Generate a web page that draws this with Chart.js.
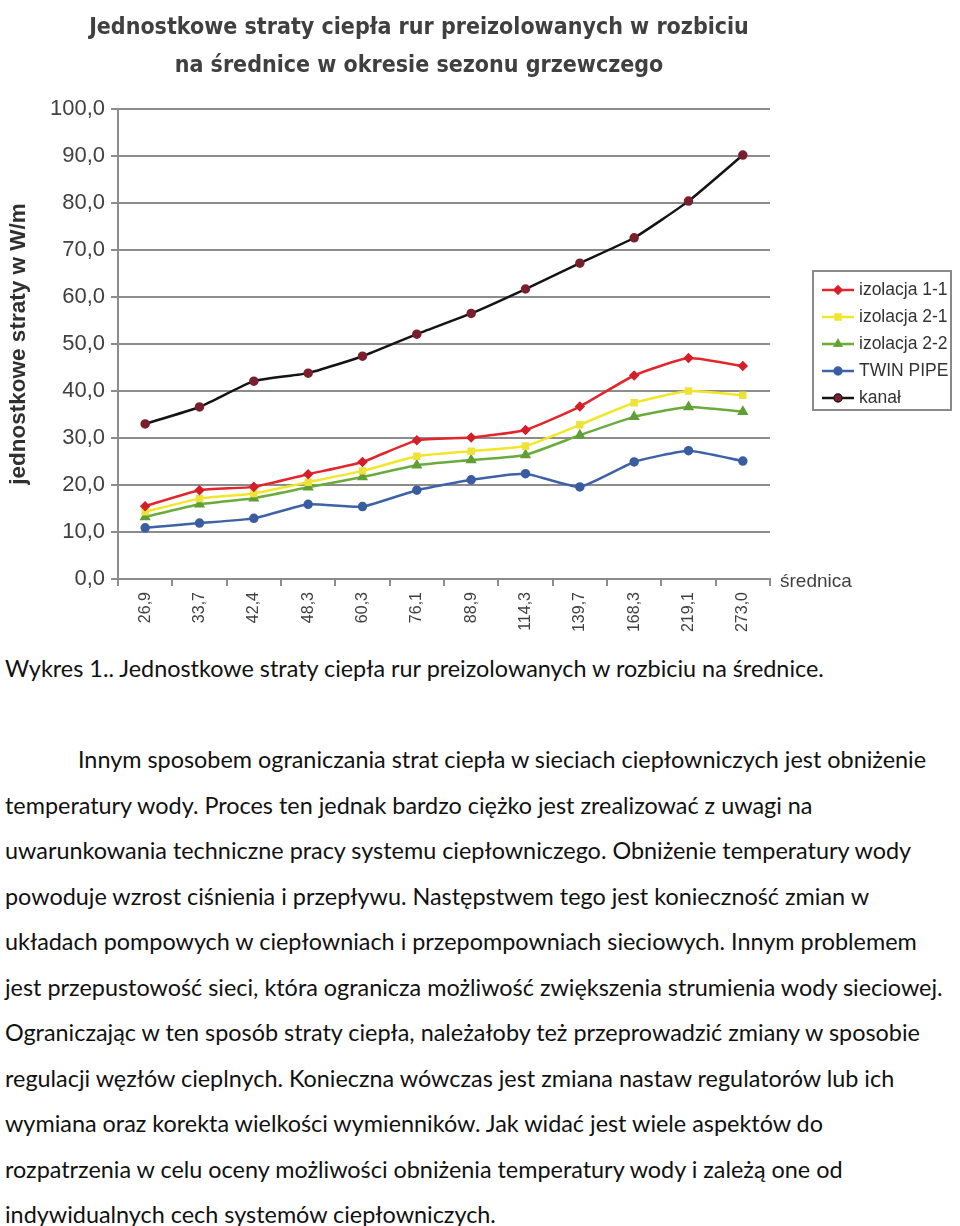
<!DOCTYPE html>
<html>
<head>
<meta charset="utf-8">
<script src="https://cdn.jsdelivr.net/npm/chart.js@4"></script>
<style>
  body { margin: 0; background: #fff; width: 960px; height: 1226px; position: relative; overflow: hidden; }
  #wrap { position: absolute; left: 0; top: 0; width: 960px; height: 640px; }
  #title {
    position: absolute; left: 0; width: 838px; top: 7px; text-align: center;
    font-family: "Liberation Sans Narrow", "DejaVu Sans Condensed", sans-serif;
    font-size: 23px; font-weight: bold; line-height: 38px; color: #404040;
  }
  #legend {
    position: absolute; left: 812px; top: 270px; width: 140px; height: 141px;
    border: 2px solid #8a8a8a; box-sizing: border-box; padding: 4px 0 0 6px;
    font-family: "Liberation Sans", Arial, sans-serif; font-size: 17.5px; color: #333;
  }
  #legend .item { height: 27px; display: flex; align-items: center; white-space: nowrap; }
  #legend canvas { margin-right: 3px; }
  #text {
    position: absolute; left: 5px; top: 650px; width: 955px;
    font-family: Lato, "Open Sans", sans-serif; font-size: 23.4px; color: #111;
  }
  #text div { white-space: nowrap; height: 45.5px; line-height: 36px; }
  #text .indent { padding-left: 73px; }
</style>
</head>
<body>
<div id="wrap">
  <div id="title">Jednostkowe straty ciepła rur preizolowanych w rozbiciu<br>na średnice w okresie sezonu grzewczego</div>
  <canvas id="myChart" width="960" height="640"></canvas>
  <div id="legend"></div>
</div>
<div id="text">
  <div>Wykres 1.. Jednostkowe straty ciepła rur preizolowanych w rozbiciu na średnice.</div>
  <div>&nbsp;</div>
  <div class="indent">Innym sposobem ograniczania strat ciepła w sieciach ciepłowniczych jest obniżenie</div>
  <div>temperatury wody. Proces ten jednak bardzo ciężko jest zrealizować z uwagi na</div>
  <div>uwarunkowania techniczne pracy systemu ciepłowniczego. Obniżenie temperatury wody</div>
  <div>powoduje wzrost ciśnienia i przepływu. Następstwem tego jest konieczność zmian w</div>
  <div>układach pompowych w ciepłowniach i przepompowniach sieciowych. Innym problemem</div>
  <div>jest przepustowość sieci, która ogranicza możliwość zwiększenia strumienia wody sieciowej.</div>
  <div>Ograniczając w ten sposób straty ciepła, należałoby też przeprowadzić zmiany w sposobie</div>
  <div>regulacji węzłów cieplnych. Konieczna wówczas jest zmiana nastaw regulatorów lub ich</div>
  <div>wymiana oraz korekta wielkości wymienników. Jak widać jest wiele aspektów do</div>
  <div>rozpatrzenia w celu oceny możliwości obniżenia temperatury wody i zależą one od</div>
  <div>indywidualnych cech systemów ciepłowniczych.</div>
</div>
<script>
// data
const srednice = ['26,9', '33,7', '42,4', '48,3', '60,3', '76,1', '88,9', '114,3', '139,7', '168,3', '219,1', '273,0'];
const izolacja11 = [15.5, 18.9, 19.6, 22.3, 24.9, 29.5, 30.1, 31.7, 36.7, 43.3, 47.0, 45.3];
const izolacja21 = [14.3, 17.1, 18.2, 20.6, 23.0, 26.1, 27.2, 28.3, 32.8, 37.5, 40.0, 39.1];
const izolacja22 = [13.2, 15.9, 17.2, 19.5, 21.7, 24.2, 25.3, 26.4, 30.6, 34.5, 36.6, 35.6];
const twinPipe = [10.9, 11.9, 12.9, 15.9, 15.4, 18.9, 21.1, 22.4, 19.6, 24.9, 27.3, 25.1];
const kanal = [33.0, 36.6, 42.1, 43.8, 47.4, 52.1, 56.5, 61.7, 67.2, 72.6, 80.4, 90.2];

const gridGray = '#8c8c8c';

function series(label, data, color, pointColor, style, radius) {
    return {
        label: label,
        data: data,
        borderColor: color,
        backgroundColor: pointColor,
        pointBorderColor: pointColor,
        pointBackgroundColor: pointColor,
        pointStyle: style,
        pointRadius: radius,
        borderWidth: 2.5,
        tension: 0.15,
        fill: false
    };
}

// x axis label "średnica" at the end of the axis
const axisLabel = {
    id: 'axisLabel',
    afterDraw(chart) {
        const c = chart.ctx;
        c.save();
        c.font = '19px "Liberation Sans", Arial, sans-serif';
        c.fillStyle = '#404040';
        c.textBaseline = 'middle';
        c.fillText('średnica', chart.chartArea.right + 10, chart.chartArea.bottom + 3);
        c.restore();
    }
};

var ctx = document.getElementById('myChart').getContext('2d');
var myChart = new Chart(ctx, {
    type: 'line',
    data: {
        labels: srednice,
        datasets: [
            series('izolacja 1-1', izolacja11, '#e2262c', '#d21f2a', 'rectRot', 3.5),
            series('izolacja 2-1', izolacja21, '#f2e629', '#ece23a', 'rect', 3.5),
            series('izolacja 2-2', izolacja22, '#6aab3b', '#5f9f35', 'triangle', 4),
            series('TWIN PIPE', twinPipe, '#3d62a8', '#3a5ca0', 'circle', 3.5),
            series('kanał', kanal, '#141414', '#7a1f2e', 'circle', 3.5)
        ]
    },
    options: {
        responsive: false,
        animation: false,
        layout: { padding: { top: 109, right: 190, left: 0, bottom: 0 } },
        plugins: {
            legend: { display: false },
            tooltip: { enabled: false }
        },
        scales: {
            x: {
                offset: true,
                border: { color: gridGray, width: 2 },
                grid: { display: true, drawOnChartArea: false, offset: true, color: gridGray, lineWidth: 2, tickLength: 7 },
                ticks: {
                    minRotation: 90, maxRotation: 90, padding: 6,
                    color: '#404040',
                    font: { family: '"Liberation Sans", Arial, sans-serif', size: 16 }
                },
                afterFit(scale) { scale.height = 61; }
            },
            y: {
                min: 0, max: 100,
                border: { color: gridGray, width: 2 },
                grid: { color: gridGray, lineWidth: 2, tickLength: 7 },
                ticks: {
                    stepSize: 10, padding: 6,
                    color: '#404040',
                    font: { family: '"Liberation Sans", Arial, sans-serif', size: 22 },
                    callback: v => v.toFixed(1).replace('.', ',')
                },
                title: {
                    display: true,
                    text: 'jednostkowe straty w W/m',
                    color: '#303030',
                    padding: { top: 5, bottom: 0 },
                    font: { family: '"Liberation Sans", Arial, sans-serif', size: 22.5, weight: 'bold' }
                },
                afterFit(scale) { scale.width = 118; }
            }
        }
    },
    plugins: [axisLabel]
});

// legend drawn from the datasets
const legend = document.getElementById('legend');
myChart.data.datasets.forEach(ds => {
    const item = document.createElement('div');
    item.className = 'item';
    const sw = document.createElement('canvas');
    sw.width = 36; sw.height = 14;
    const g = sw.getContext('2d');
    g.strokeStyle = ds.borderColor;
    g.lineWidth = 2.5;
    g.beginPath(); g.moveTo(2, 7); g.lineTo(34, 7); g.stroke();
    g.fillStyle = ds.pointBackgroundColor;
    Chart.helpers.drawPoint(g, { pointStyle: ds.pointStyle, radius: 3.5, borderWidth: 1 }, 18, 7);
    g.fill();
    item.appendChild(sw);
    item.appendChild(document.createTextNode(ds.label));
    legend.appendChild(item);
});
</script>
</body>
</html>
